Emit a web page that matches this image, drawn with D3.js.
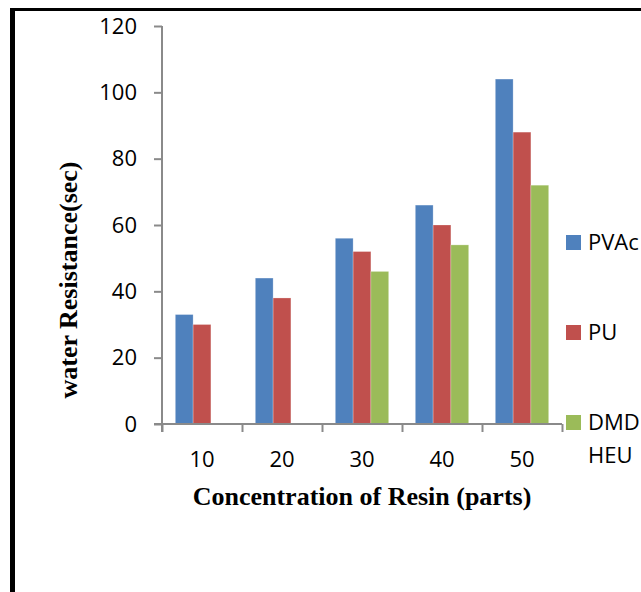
<!DOCTYPE html>
<html>
<head>
<meta charset="utf-8">
<script src="https://cdn.jsdelivr.net/npm/d3@7"></script>
<style>
  html, body { margin: 0; padding: 0; background: #fff; }
  svg { display: block; }
</style>
</head>
<body>
<div id="chart"></div>
<script>
// data
var categories = ["10", "20", "30", "40", "50"];
var seriesNames = ["PVAc", "PU", "DMD HEU"];
var pvacValues = [33, 44, 56, 66, 104];
var puValues = [30, 38, 52, 60, 88];
var dmdheuValues = [null, null, 46, 54, 72];
var yTicks = [0, 20, 40, 60, 80, 100, 120];

var width = 641,
    height = 592,
    plot_left = 162,
    plot_right = 562,
    plot_top = 26,
    plot_bottom = 424,
    tick_len = 8,
    axisColor = "#8a8a8a",
    colors = ["#4f81bd", "#c0504d", "#9bbb59"],
    tickFont = "'Open Sans', 'Liberation Sans', sans-serif",
    titleFont = "'Liberation Serif', 'Times New Roman', serif";

var seriesValues = [pvacValues, puValues, dmdheuValues];

var svg = d3.select("#chart").append("svg")
    .attr("width", width)
    .attr("height", height);

// frame round the chart (cut off on the right and bottom)
svg.append("line")
    .attr("x1", 12.5).attr("x2", 12.5)
    .attr("y1", 8).attr("y2", height)
    .attr("stroke", "#000").attr("stroke-width", 5);
svg.append("line")
    .attr("x1", 10).attr("x2", width)
    .attr("y1", 9.5).attr("y2", 9.5)
    .attr("stroke", "#000").attr("stroke-width", 3);

// scales
var x = d3.scaleBand()
    .domain(categories)
    .range([plot_left, plot_right])
    .padding(0);
var xSub = d3.scaleBand()
    .domain(seriesNames)
    .range([0, x.bandwidth()])
    .paddingInner(0)
    .paddingOuter(0.75);
var y = d3.scaleLinear()
    .domain([0, 120])
    .range([plot_bottom, plot_top]);

// bars
var bars = svg.append("g").attr("id", "bars");
seriesNames.forEach(function(name, si) {
    var rows = categories.map(function(c, i) { return {cat: c, v: seriesValues[si][i]}; })
        .filter(function(d) { return d.v != null; });
    bars.selectAll(".bar-" + si)
        .data(rows)
        .enter().append("rect")
            .attr("class", "bar-" + si)
            .attr("x", function(d) { return x(d.cat) + xSub(name); })
            .attr("y", function(d) { return y(d.v); })
            .attr("width", xSub.bandwidth())
            .attr("height", function(d) { return y(0) - y(d.v); })
            .attr("fill", colors[si])
            .attr("stroke", "#fff")
            .attr("stroke-opacity", 0.3)
            .attr("stroke-width", 0.8);
});

// y axis
var yAxis = d3.axisLeft(y)
    .tickValues(yTicks)
    .tickSize(tick_len)
    .tickSizeOuter(0)
    .tickPadding(17);
var gy = svg.append("g")
    .attr("id", "y-axis")
    .attr("transform", "translate(" + plot_left + ",0)")
    .call(yAxis);
gy.select(".domain").remove();
gy.append("line")
    .attr("x1", 0).attr("x2", 0)
    .attr("y1", y(120)).attr("y2", y(0) + tick_len)
    .attr("stroke", axisColor).attr("stroke-width", 2);
gy.selectAll(".tick line").attr("stroke", axisColor).attr("stroke-width", 2);
gy.selectAll(".tick text")
    .attr("font-family", tickFont)
    .attr("font-size", 22)
    .attr("fill", "#000");

// x axis: ticks between categories, labels centred
var xEdge = d3.scaleLinear()
    .domain([0, categories.length])
    .range([plot_left, plot_right]);
var gxTicks = svg.append("g")
    .attr("id", "x-axis-ticks")
    .attr("transform", "translate(0," + plot_bottom + ")")
    .call(d3.axisBottom(xEdge)
        .tickValues(d3.range(categories.length + 1))
        .tickFormat("")
        .tickSize(tick_len)
        .tickSizeOuter(0));
gxTicks.select(".domain").remove();
gxTicks.selectAll(".tick line").attr("stroke", axisColor).attr("stroke-width", 2);
gxTicks.append("line")
    .attr("x1", plot_left - tick_len).attr("x2", plot_right)
    .attr("y1", 0).attr("y2", 0)
    .attr("stroke", axisColor).attr("stroke-width", 2);

var gx = svg.append("g")
    .attr("id", "x-axis")
    .attr("transform", "translate(0," + plot_bottom + ")")
    .call(d3.axisBottom(x).tickSize(0).tickPadding(27));
gx.select(".domain").remove();
gx.selectAll(".tick text")
    .attr("font-family", tickFont)
    .attr("font-size", 22)
    .attr("fill", "#000");

// axis titles
svg.append("text")
    .attr("x", (plot_left + plot_right) / 2)
    .attr("y", 505)
    .attr("text-anchor", "middle")
    .attr("font-family", titleFont)
    .attr("font-weight", "bold")
    .attr("font-size", 26)
    .text("Concentration of Resin (parts)");
svg.append("text")
    .attr("transform", "translate(77,280) rotate(-90)")
    .attr("text-anchor", "middle")
    .attr("font-family", titleFont)
    .attr("font-weight", "bold")
    .attr("font-size", 26)
    .text("water Resistance(sec)");

// legend
var legend = svg.append("g").attr("id", "legend");
var legendItem = legend.selectAll("g")
    .data(seriesNames)
    .enter().append("g")
        .attr("transform", function(d, i) { return "translate(566," + (235 + i * 90) + ")"; });
legendItem.append("rect")
    .attr("width", 15).attr("height", 15)
    .attr("fill", function(d, i) { return colors[i]; });
var legendText = legendItem.append("text")
    .attr("x", 22)
    .attr("y", 15)
    .attr("font-family", tickFont)
    .attr("font-size", 22)
    .attr("fill", "#000");
legendText.selectAll("tspan")
    .data(function(d) { return d.split(" "); })
    .enter().append("tspan")
        .attr("x", 22)
        .attr("dy", function(d, i) { return i === 0 ? 0 : 33; })
        .text(function(d) { return d; });
</script>
</body>
</html>
